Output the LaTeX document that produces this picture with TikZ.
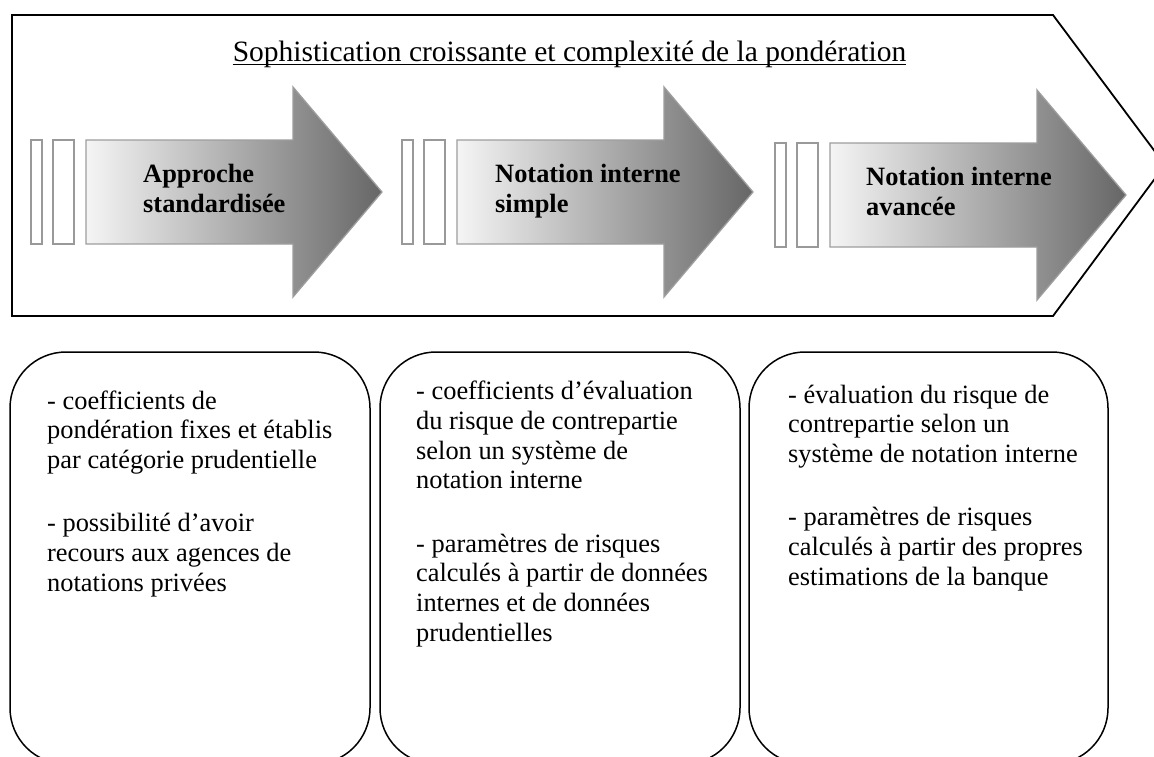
\documentclass[tikz,border=0pt]{standalone}
\usepackage{fontspec}
\setmainfont{Liberation Serif}
\newcommand\boxfont{\fontsize{26.4}{29.6}\selectfont}
\newcommand\arrfont{\fontsize{26.4}{30}\selectfont\bfseries}
\newcommand\titfont{\fontsize{29.5}{33}\selectfont}
\begin{document}
\begin{tikzpicture}[x=1pt,y=-1pt,
  bar/.style={draw=black!40,fill=white,line width=1.3pt},
  arrowshade/.style={draw=black!38,line width=1.3pt,left color=black!4,right color=black!60},
  frame/.style={draw=black,line width=1.8pt},
  card/.style={draw=black,line width=1.5pt,rounded corners=56pt},
  cardtext/.style={anchor=base west,align=left,inner sep=0pt,font=\boxfont},
  arrtext/.style={anchor=base west,align=left,inner sep=0pt,font=\arrfont}]
\useasboundingbox (0,0) rectangle (1154,756);
\clip (0,0) rectangle (1154,756);
\fill[white] (0,0) rectangle (1154,756);
% big frame
\draw[frame] (12,15) -- (1053,15) -- (1165,165) -- (1053,316) -- (12,316) -- cycle;
\node[anchor=base,inner sep=0pt,font=\titfont] (title) at (569.5,61) {Sophistication croissante et complexit\'e de la pond\'eration};
\draw[line width=1.4pt] ([yshift=-3.5pt]title.base west) -- ([yshift=-3.5pt]title.base east);
% arrow 1
\draw[bar] (31,140) rectangle (42,244);
\draw[bar] (53,140) rectangle (74,244);
\shade[arrowshade] (86,140) -- (293,140) -- (293,87) -- (382,192) -- (293,297) -- (293,244) -- (86,244) -- cycle;
\node[arrtext] (a1) at (143,212.7) {Approche\\standardis\'ee};
% arrow 2
\draw[bar] (402,140) rectangle (413,244);
\draw[bar] (424,140) rectangle (445,244);
\shade[arrowshade] (457,140) -- (664,140) -- (664,87) -- (753,192) -- (664,297) -- (664,244) -- (457,244) -- cycle;
\node[arrtext] (a2) at (495,212) {Notation interne\\simple};
% arrow 3
\draw[bar] (775,143) rectangle (786,247);
\draw[bar] (797,143) rectangle (818,247);
\shade[arrowshade] (830,143) -- (1037,143) -- (1037,90) -- (1126,195) -- (1037,300) -- (1037,247) -- (830,247) -- cycle;
\node[arrtext] (a3) at (866,215) {Notation interne\\avanc\'ee};
% cards
\draw[card] (10,352) rectangle (370,764);
\draw[card] (380,352) rectangle (740,764);
\draw[card] (749,352) rectangle (1108,764);
\node[cardtext] (t1) at (47,591) {- coefficients de\\pond\'eration fixes et \'etablis\\par cat\'egorie prudentielle\\[34pt]- possibilit\'e d'avoir\\recours aux agences de\\notations priv\'ees};
\node[cardtext] (t2) at (416,641) {- coefficients d'\'evaluation\\du risque de contrepartie\\selon un syst\`eme de\\notation interne\\[34pt]- param\`etres de risques\\calcul\'es \`a partir de donn\'ees\\internes et de donn\'ees\\prudentielles};
\node[cardtext] (t3) at (788,585) {- \'evaluation du risque de\\contrepartie selon un\\syst\`eme de notation interne\\[34pt]- param\`etres de risques\\calcul\'es \`a partir des propres\\estimations de la banque};
\end{tikzpicture}
\end{document}
